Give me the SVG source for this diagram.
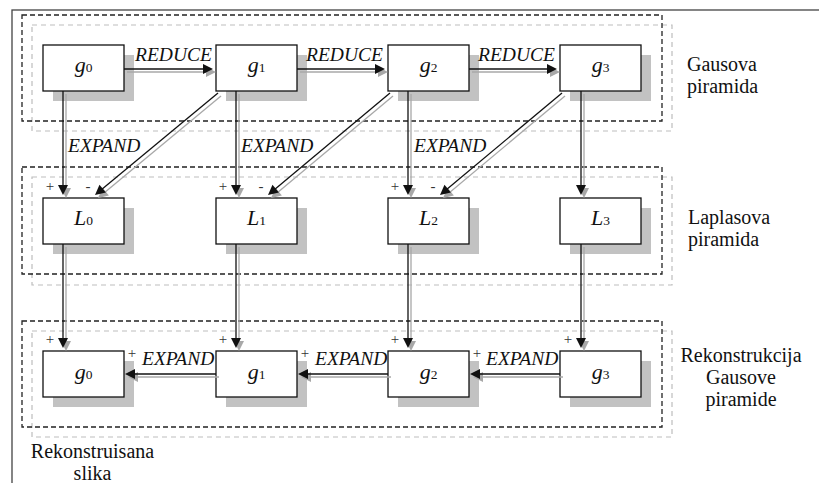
<svg xmlns="http://www.w3.org/2000/svg" xmlns:xlink="http://www.w3.org/1999/xlink" width="819" height="483" viewBox="0 0 819 483">
  <style>
    .frame { fill: none; stroke: #444; stroke-width: 1.3; }
    .zone { fill: none; stroke: #222; stroke-width: 1.3; stroke-dasharray: 5 3; }
    .zone2 { fill: none; stroke: #bdbdbd; stroke-width: 1.2; stroke-dasharray: 5 4; }
    .shadow { fill: #c2c2c2; }
    .box { fill: #fff; stroke: #111; stroke-width: 1.3; }
    .var { font-family: "Liberation Serif", "Times New Roman", serif; font-style: italic; font-size: 22px; fill: #111; }
    .idx { font-family: "Liberation Serif", "Times New Roman", serif; font-style: normal; font-size: 13.5px; }
    .op { font-family: "Liberation Serif", "Times New Roman", serif; font-style: italic; font-size: 19.5px; fill: #111; }
    .sign { font-family: "Liberation Serif", "Times New Roman", serif; font-size: 15px; fill: #333; }
    .cap { font-family: "Liberation Serif", "Times New Roman", serif; font-size: 20px; fill: #111; }
    .wire line { stroke: currentColor; stroke-width: 1.3; }
    .wire polygon { fill: currentColor; stroke: none; }
  </style>

  <defs>
    <!-- all connectors; drawn once in grey (offset) and once in black -->
    <g id="wires" class="wire">
      <!-- REDUCE -->
      <line x1="124" y1="69" x2="205" y2="69"/><polygon points="213,69 203,64 203,74"/>
      <line x1="297" y1="69" x2="377" y2="69"/><polygon points="385,69 375,64 375,74"/>
      <line x1="469" y1="69" x2="549" y2="69"/><polygon points="557,69 547,64 547,74"/>
      <!-- g -> L -->
      <line x1="63" y1="91" x2="63" y2="187"/><polygon points="63,195 58,185 68,185"/>
      <line x1="236" y1="91" x2="236" y2="187"/><polygon points="236,195 231,185 241,185"/>
      <line x1="408" y1="91" x2="408" y2="187"/><polygon points="408,195 403,185 413,185"/>
      <line x1="581" y1="91" x2="581" y2="187"/><polygon points="581,195 576,185 586,185"/>
      <!-- EXPAND diagonals -->
      <line x1="218" y1="93" x2="101" y2="190"/><polygon points="95,195 105.9,192.4 99.5,184.8"/>
      <line x1="390" y1="93" x2="274" y2="190"/><polygon points="268,195 278.9,192.4 272.5,184.8"/>
      <line x1="562" y1="93" x2="446" y2="190"/><polygon points="440,195 450.9,192.4 444.5,184.8"/>
      <!-- L -> reconstruction -->
      <line x1="63" y1="244" x2="63" y2="340"/><polygon points="63,348 58,338 68,338"/>
      <line x1="236" y1="244" x2="236" y2="340"/><polygon points="236,348 231,338 241,338"/>
      <line x1="408" y1="244" x2="408" y2="340"/><polygon points="408,348 403,338 413,338"/>
      <line x1="581" y1="244" x2="581" y2="340"/><polygon points="581,348 576,338 586,338"/>
      <!-- reconstruction EXPAND -->
      <line x1="216" y1="374" x2="133" y2="374"/><polygon points="125,374 135,369 135,379"/>
      <line x1="388" y1="374" x2="306" y2="374"/><polygon points="298,374 308,369 308,379"/>
      <line x1="560" y1="374" x2="478" y2="374"/><polygon points="470,374 480,369 480,379"/>
    </g>
  </defs>

  <!-- outer frame -->
  <rect class="frame" x="12" y="10" width="900" height="600"/>

  <!-- pyramid level frames -->
  <g id="zones">
    <rect class="zone2" x="32" y="25" width="640" height="106"/>
    <rect class="zone" x="22" y="15" width="640" height="106"/>
    <rect class="zone2" x="32" y="177" width="640" height="108"/>
    <rect class="zone" x="22" y="167" width="640" height="107"/>
    <rect class="zone2" x="32" y="331" width="640" height="106"/>
    <rect class="zone" x="22" y="321" width="640" height="106"/>
  </g>

  <!-- Gaussian pyramid -->
  <g id="g0">
    <rect class="shadow" x="53" y="55" width="81" height="46"/>
    <rect class="box" x="43" y="45" width="81" height="46"/>
    <text class="var" x="83.5" y="72" text-anchor="middle">g<tspan class="idx">0</tspan></text>
  </g>
  <g id="g1">
    <rect class="shadow" x="226" y="55" width="81" height="46"/>
    <rect class="box" x="216" y="45" width="81" height="46"/>
    <text class="var" x="256.5" y="72" text-anchor="middle">g<tspan class="idx">1</tspan></text>
  </g>
  <g id="g2">
    <rect class="shadow" x="398" y="55" width="81" height="46"/>
    <rect class="box" x="388" y="45" width="81" height="46"/>
    <text class="var" x="428.5" y="72" text-anchor="middle">g<tspan class="idx">2</tspan></text>
  </g>
  <g id="g3">
    <rect class="shadow" x="570" y="55" width="81" height="46"/>
    <rect class="box" x="560" y="45" width="81" height="46"/>
    <text class="var" x="600.5" y="72" text-anchor="middle">g<tspan class="idx">3</tspan></text>
  </g>

  <!-- Laplacian pyramid -->
  <g id="L0">
    <rect class="shadow" x="53" y="208" width="81" height="46"/>
    <rect class="box" x="43" y="198" width="81" height="46"/>
    <text class="var" x="83.5" y="225" text-anchor="middle" font-size="20">L<tspan class="idx">0</tspan></text>
  </g>
  <g id="L1">
    <rect class="shadow" x="226" y="208" width="81" height="46"/>
    <rect class="box" x="216" y="198" width="81" height="46"/>
    <text class="var" x="256.5" y="225" text-anchor="middle" font-size="20">L<tspan class="idx">1</tspan></text>
  </g>
  <g id="L2">
    <rect class="shadow" x="398" y="208" width="81" height="46"/>
    <rect class="box" x="388" y="198" width="81" height="46"/>
    <text class="var" x="428.5" y="225" text-anchor="middle" font-size="20">L<tspan class="idx">2</tspan></text>
  </g>
  <g id="L3">
    <rect class="shadow" x="570" y="208" width="81" height="46"/>
    <rect class="box" x="560" y="198" width="81" height="46"/>
    <text class="var" x="600.5" y="225" text-anchor="middle" font-size="20">L<tspan class="idx">3</tspan></text>
  </g>

  <!-- reconstructed Gaussian pyramid -->
  <g id="r0">
    <rect class="shadow" x="53" y="361" width="81" height="46"/>
    <rect class="box" x="43" y="351" width="81" height="46"/>
    <text class="var" x="83.5" y="379" text-anchor="middle">g<tspan class="idx">0</tspan></text>
  </g>
  <g id="r1">
    <rect class="shadow" x="226" y="361" width="81" height="46"/>
    <rect class="box" x="216" y="351" width="81" height="46"/>
    <text class="var" x="256.5" y="379" text-anchor="middle">g<tspan class="idx">1</tspan></text>
  </g>
  <g id="r2">
    <rect class="shadow" x="398" y="361" width="81" height="46"/>
    <rect class="box" x="388" y="351" width="81" height="46"/>
    <text class="var" x="428.5" y="379" text-anchor="middle">g<tspan class="idx">2</tspan></text>
  </g>
  <g id="r3">
    <rect class="shadow" x="570" y="361" width="81" height="46"/>
    <rect class="box" x="560" y="351" width="81" height="46"/>
    <text class="var" x="600.5" y="379" text-anchor="middle">g<tspan class="idx">3</tspan></text>
  </g>

  <!-- connectors: grey offset copy, then black -->
  <g id="connectors">
    <use xlink:href="#wires" href="#wires" transform="translate(3,3)" style="color:#a8a8a8"/>
    <use xlink:href="#wires" href="#wires" style="color:#111"/>
  </g>

  <!-- operation labels -->
  <g id="op-labels">
    <text class="op" x="135" y="61">REDUCE</text>
    <text class="op" x="306" y="61">REDUCE</text>
    <text class="op" x="478" y="61">REDUCE</text>
    <text class="op" x="68" y="152">EXPAND</text>
    <text class="op" x="241" y="152">EXPAND</text>
    <text class="op" x="414" y="152">EXPAND</text>
    <text class="op" x="142" y="365">EXPAND</text>
    <text class="op" x="315" y="365">EXPAND</text>
    <text class="op" x="486" y="365">EXPAND</text>
  </g>

  <!-- signs at the summing inputs -->
  <g id="signs" text-anchor="middle">
    <text class="sign" x="50" y="191">+</text><text class="sign" x="88" y="191">-</text>
    <text class="sign" x="223" y="191">+</text><text class="sign" x="261" y="191">-</text>
    <text class="sign" x="395" y="191">+</text><text class="sign" x="433" y="191">-</text>
    <text class="sign" x="50" y="344">+</text>
    <text class="sign" x="223" y="344">+</text>
    <text class="sign" x="395" y="344">+</text>
    <text class="sign" x="568" y="344">+</text>
    <text class="sign" x="132" y="358">+</text>
    <text class="sign" x="305" y="358">+</text>
    <text class="sign" x="477" y="358">+</text>
  </g>

  <!-- level captions -->
  <g id="captions">
    <text class="cap" x="687" y="71">Gausova</text>
    <text class="cap" x="687" y="93">piramida</text>
    <text class="cap" x="688" y="224">Laplasova</text>
    <text class="cap" x="688" y="246">piramida</text>
    <text class="cap" x="741" y="362" text-anchor="middle">Rekonstrukcija</text>
    <text class="cap" x="741" y="384" text-anchor="middle">Gausove</text>
    <text class="cap" x="741" y="406" text-anchor="middle">piramide</text>
    <text class="cap" x="92.5" y="458" text-anchor="middle">Rekonstruisana</text>
    <text class="cap" x="92.5" y="480" text-anchor="middle">slika</text>
  </g>
</svg>
